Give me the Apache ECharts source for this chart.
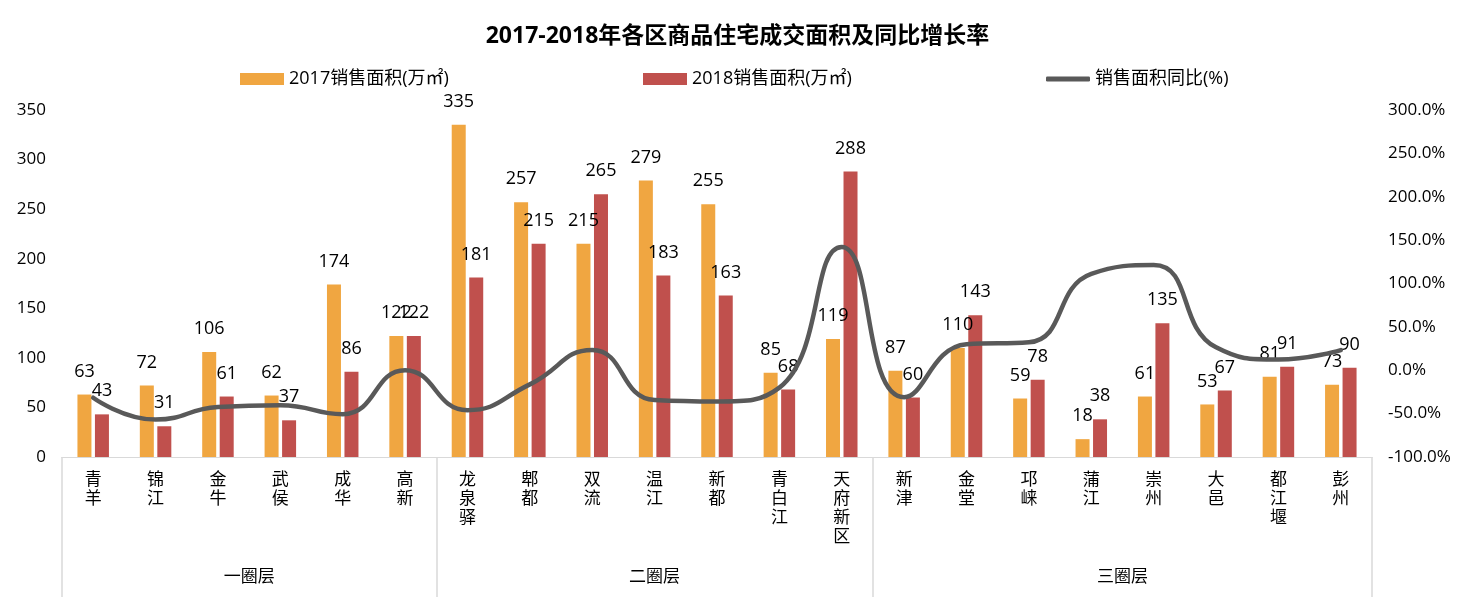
<!DOCTYPE html>
<html>
<head>
<meta charset="utf-8">
<script src="https://cdn.jsdelivr.net/npm/echarts@6/dist/echarts.min.js"></script>
<style>
html,body{margin:0;padding:0;background:#fff;}
#chart{width:1475px;height:597px;}
</style>
</head>
<body>
<div id="chart"></div>
<script>
const categories = ['青羊','锦江','金牛','武侯','成华','高新','龙泉驿','郫都','双流','温江','新都','青白江','天府新区','新津','金堂','邛崃','蒲江','崇州','大邑','都江堰','彭州'];
const groupNames = ['一圈层','二圈层','三圈层'];
const groupSizes = [6, 7, 8];
const sales2017 = [63,72,106,62,174,122,335,257,215,279,255,85,119,87,110,59,18,61,53,81,73];
const sales2018 = [43,31,61,37,86,122,181,215,265,183,163,68,288,60,143,78,38,135,67,91,90];
const growthPct = [-31.7,-56.9,-42.5,-40.3,-50.6,0.0,-46.0,-16.3,23.3,-34.4,-36.1,-20.0,142.0,-31.0,30.0,32.2,111.1,121.3,26.4,12.3,23.3];
const leftTicks = {min:0, max:350, interval:50};
const rightTicks = {min:-100, max:300, interval:50};

const boundaries = [0];
groupSizes.forEach(s => boundaries.push(boundaries[boundaries.length-1] + s));
const centers = groupSizes.map((s, i) => boundaries[i] + s / 2);

const FONT = "'Open Sans','Noto Sans CJK SC',sans-serif";
const chart = echarts.init(document.getElementById('chart'));
const legendText = {fontSize: 18, color: '#000', fontFamily: FONT};
chart.setOption({
  animation: false,
  textStyle: {fontFamily: FONT},
  title: {
    text: '2017-2018年各区商品住宅成交面积及同比增长率',
    left: 'center', top: 20,
    textStyle: {fontSize: 23, fontWeight: 'bold', color: '#000', fontFamily: FONT}
  },
  legend: [
    {data: ['2017销售面积(万㎡)'], left: 235, top: 65, itemWidth: 44, itemHeight: 12, icon: 'rect', textStyle: legendText},
    {data: ['2018销售面积(万㎡)'], left: 638, top: 65, itemWidth: 44, itemHeight: 12, icon: 'rect', textStyle: legendText},
    {data: ['销售面积同比(%)'], left: 1041, top: 65, itemWidth: 44, itemHeight: 5, icon: 'roundRect', textStyle: legendText}
  ],
  grid: {left: 62, right: 103, top: 110, bottom: 140},
  xAxis: [
    {
      type: 'category', data: categories,
      axisLine: {onZero: false, lineStyle: {color: '#d9d9d9', width: 1}},
      axisTick: {show: false},
      axisLabel: {
        interval: 0, margin: 14, fontSize: 17, lineHeight: 19, color: '#000',
        formatter: v => v.split('').join('\n')
      }
    },
    {
      type: 'value', position: 'bottom', min: 0, max: boundaries[boundaries.length-1],
      axisLine: {show: true, onZero: false, lineStyle: {color: '#d9d9d9', width: 1}},
      axisTick: {show: true, customValues: boundaries, length: 142, lineStyle: {color: '#d9d9d9', width: 1.5}},
      axisLabel: {
        customValues: centers, margin: 112, fontSize: 17, color: '#000',
        formatter: v => groupNames[centers.indexOf(v)]
      },
      splitLine: {show: false}
    }
  ],
  yAxis: [
    {
      type: 'value', min: leftTicks.min, max: leftTicks.max, interval: leftTicks.interval,
      axisLine: {show: false}, axisTick: {show: false}, splitLine: {show: false},
      axisLabel: {fontSize: 17, color: '#000', margin: 16}
    },
    {
      type: 'value', min: rightTicks.min, max: rightTicks.max, interval: rightTicks.interval,
      axisLine: {show: false}, axisTick: {show: false}, splitLine: {show: false},
      axisLabel: {fontSize: 17, color: '#000', margin: 16, formatter: v => v.toFixed(1) + '%'}
    }
  ],
  series: [
    {
      name: '2017销售面积(万㎡)', type: 'bar', data: sales2017,
      barWidth: 14, barGap: '25%',
      itemStyle: {color: '#F0A641'},
      label: {show: true, position: 'top', distance: 14, fontSize: 18, color: '#000'}
    },
    {
      name: '2018销售面积(万㎡)', type: 'bar', data: sales2018,
      barWidth: 14, barGap: '25%',
      itemStyle: {color: '#C0504D'},
      label: {show: true, position: 'top', distance: 14, fontSize: 18, color: '#000'}
    },
    {
      name: '销售面积同比(%)', type: 'line', yAxisIndex: 1, data: growthPct,
      smooth: 0.5, symbol: 'none', z: 5,
      lineStyle: {color: '#595959', width: 4.5, cap: 'round'},
      itemStyle: {color: '#595959'}
    }
  ]
});
</script>
</body>
</html>
